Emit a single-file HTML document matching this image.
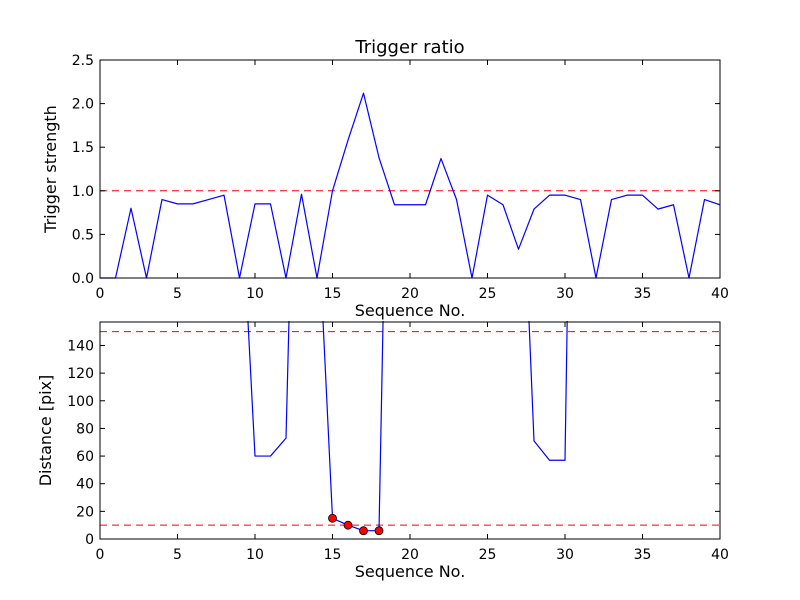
<!DOCTYPE html>
<html><head><meta charset="utf-8"><style>
body{margin:0;background:#fff}
svg{display:block;font-family:"DejaVu Sans","Liberation Sans",sans-serif}
</style></head><body>
<svg id="c" width="800" height="600" viewBox="0 0 800 600">
<rect width="800" height="600" fill="#fff"/>
</svg>
<script>
const seqX=[0,1,2,3,4,5,6,7,8,9,10,11,12,13,14,15,16,17,18,19,20,21,22,23,24,25,26,27,28,29,30,31,32,33,34,35,36,37,38,39,40];
const strength=[0,0,0.8,0,0.9,0.85,0.85,0.9,0.95,0,0.85,0.85,0,0.96,0,1.0,1.58,2.12,1.38,0.84,0.84,0.84,1.37,0.9,0,0.95,0.84,0.33,0.79,0.95,0.95,0.9,0,0.9,0.95,0.95,0.79,0.84,0,0.9,0.84];
const distance=[400,400,400,400,400,400,400,400,400,275,60,60,73,515,248,15,10,6,6,586,400,400,400,400,400,400,400,340,71,57,57,770,400,400,400,400,400,400,400,400,400];
const hitX=[15,16,17,18];
const hitD=[15,10,6,6];
const xTicks=[0,5,10,15,20,25,30,35,40];
const topTicks=[0,0.5,1.0,1.5,2.0,2.5];
const botTicks=[0,20,40,60,80,100,120,140];
const topThresh=[1.0];
const botThresh=[10,150];

const NS="http://www.w3.org/2000/svg";
const svg=document.getElementById('c');
function el(t,a,p){const e=document.createElementNS(NS,t);for(const k in a)e.setAttribute(k,a[k]);(p||svg).appendChild(e);return e;}
function panel(cfg){
  const {L,R,T,B,ymax,name}=cfg;
  const sx=v=>L+(v-0)/(40-0)*(R-L);
  const sy=v=>B-v/ymax*(B-T);
  const g=el('g',{});
  
  
  const cid='clip-'+name;
  const cp=el('clipPath',{id:cid},g);el('rect',{x:L,y:T-1,width:R-L,height:B-T+2},cp);
  const pg=el('g',{'clip-path':`url(#${cid})`},g);
  cfg.thresh.forEach(t=>{
    const l=el('line',{x1:L,x2:R,y1:sy(t),y2:sy(t),stroke:'#ff0000','stroke-dasharray':'7,5','stroke-width':1},pg);
    
    
  });
  const pts=seqX.map((x,i)=>sx(x).toFixed(2)+','+sy(cfg.data[i]).toFixed(2)).join(' ');
  const pl=el('polyline',{points:pts,fill:'none',stroke:'#0000ff','stroke-width':1.2,'stroke-linejoin':'round','stroke-linecap':'round'},pg);
  
  
  if(cfg.dots){cfg.dots[0].forEach((x,i)=>{
    const c=el('circle',{cx:sx(x),cy:sy(cfg.dots[1][i]),r:4,fill:'#ff0000',stroke:'#000','stroke-width':0.8},pg);
    
    
  });}
  el('rect',{x:L,y:T,width:R-L,height:B-T,fill:'none',stroke:'#000','stroke-width':1},g);
  xTicks.forEach(v=>{
    const x=sx(v);
    el('line',{x1:x,x2:x,y1:B,y2:B-5,stroke:'#000'},g);
    el('line',{x1:x,x2:x,y1:T,y2:T+5,stroke:'#000'},g);
    const t=el('text',{x:x,y:B+20,'text-anchor':'middle','font-size':14},g);t.textContent=v;
    
    
  });
  cfg.yt.forEach(v=>{
    const y=sy(v);
    el('line',{x1:L,x2:L+5,y1:y,y2:y,stroke:'#000'},g);
    el('line',{x1:R,x2:R-5,y1:y,y2:y,stroke:'#000'},g);
    const t=el('text',{x:L-6,y:y+5,'text-anchor':'end','font-size':14},g);t.textContent=cfg.fmt(v);
    
    
  });
  const xl=el('text',{x:(L+R)/2,y:B+38,'text-anchor':'middle','font-size':16},g);xl.textContent='Sequence No.';
  
  
  const yl=el('text',{x:0,y:0,'text-anchor':'middle','font-size':16,transform:`translate(${cfg.ylx},${(T+B)/2}) rotate(-90)`},g);yl.textContent=cfg.ylabel;
  
  
}
const title=el('text',{x:410,y:53,'text-anchor':'middle','font-size':18});title.textContent='Trigger ratio';


panel({L:100,R:720,T:60,B:278,ymax:2.5,name:'trigger-strength-panel',data:strength,yt:topTicks,fmt:v=>v.toFixed(1),thresh:topThresh,ylabel:'Trigger strength',ylx:56});
panel({L:100,R:720,T:322,B:539,ymax:157,name:'distance-panel',data:distance,yt:botTicks,fmt:v=>String(v),thresh:botThresh,ylabel:'Distance [pix]',ylx:51,dots:[hitX,hitD]});
</script>
</body></html>
